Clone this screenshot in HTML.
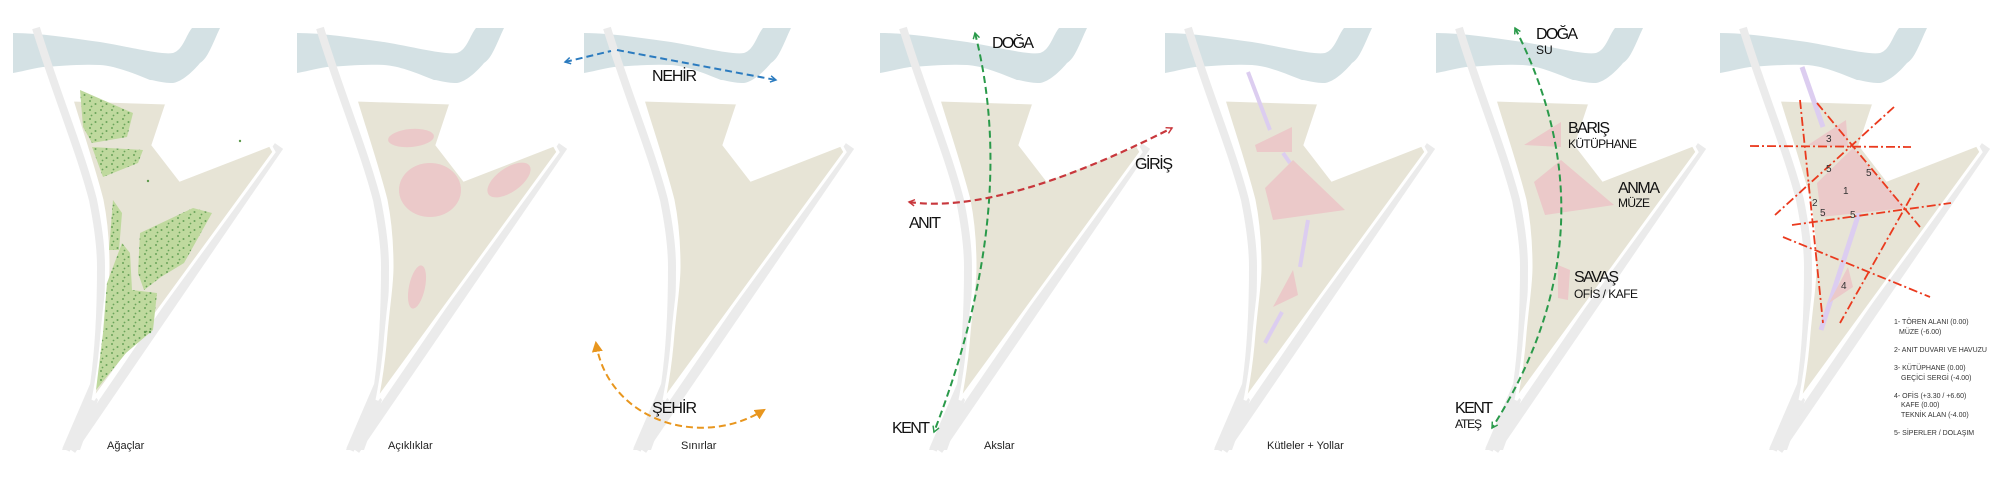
<!DOCTYPE html>
<html><head><meta charset="utf-8"><style>
html,body{margin:0;padding:0;background:#fff;}
svg{display:block;}
text{font-family:"Liberation Sans","DejaVu Sans",sans-serif;fill:#111;}
.cap{font-size:11px;fill:#222;}
.big{font-size:16px;}
.sm{font-size:12px;}
.num{font-size:10px;fill:#333;}
.lg{font-size:7px;fill:#333;}
</style></head><body>
<svg width="2000" height="478" viewBox="0 0 2000 478" xmlns="http://www.w3.org/2000/svg">
<defs>
  <pattern id="dots" width="11" height="9" patternUnits="userSpaceOnUse">
    <circle cx="2" cy="2" r="1" fill="#6aa35a"/>
    <circle cx="7.5" cy="5" r="1" fill="#6aa35a"/>
    <circle cx="3.5" cy="7.5" r="0.9" fill="#6aa35a"/>
  </pattern>
  <marker id="cb" viewBox="0 0 10 10" refX="8" refY="5" markerWidth="8" markerHeight="8" orient="auto-start-reverse" markerUnits="userSpaceOnUse">
    <path d="M1,1 L8,5 L1,9" fill="none" stroke="#2b7bbf" stroke-width="1.8"/>
  </marker>
  <marker id="cg" viewBox="0 0 10 10" refX="8" refY="5" markerWidth="8" markerHeight="8" orient="auto-start-reverse" markerUnits="userSpaceOnUse">
    <path d="M1,1 L8,5 L1,9" fill="none" stroke="#2a9a4a" stroke-width="1.8"/>
  </marker>
  <marker id="cr" viewBox="0 0 10 10" refX="8" refY="5" markerWidth="8" markerHeight="8" orient="auto-start-reverse" markerUnits="userSpaceOnUse">
    <path d="M1,1 L8,5 L1,9" fill="none" stroke="#c8373c" stroke-width="1.8"/>
  </marker>
  <marker id="to" viewBox="0 0 10 10" refX="8" refY="5" markerWidth="11" markerHeight="11" orient="auto-start-reverse" markerUnits="userSpaceOnUse">
    <path d="M0,0 L10,5 L0,10 Z" fill="#e8961e"/>
  </marker>
  <g id="base">
    <path d="M13,33 C40,33 70,38 100,42 C130,47 160,55 173,53 C183,50 186,35 192,28 L220,28 C212,45 208,58 200,63 C190,75 180,82 173,83 C160,83 155,80 150,80 C130,72 115,66 100,65 C80,64 60,66 43,67 C30,69 20,72 13,73 Z" fill="#d4e1e4"/>
    <path d="M36,28 C55,90 80,150 93,200 C99,230 101,250 101,267 C101,310 99,350 94,385 L66,450" fill="none" stroke="#ebebeb" stroke-width="8" stroke-linejoin="round"/>
    <line x1="279" y1="146" x2="71" y2="450" stroke="#ebebeb" stroke-width="10"/>
    <polygon points="62,450 92,392 98,400 80,450" fill="#ebebeb"/>
    <path d="M72,100 L167,103 L153,145 L180,180 L270,145 L274,152 L93,400 C96,385 100,360 102,333 C105,300 108,285 108,267 C108,240 106,220 102,200 C93,165 81,130 72,100 Z" fill="#e7e4d6" stroke="#fff" stroke-width="3"/>
  </g>
</defs>

<!-- Panel 1 -->
<use href="#base" x="0"/>
<g fill="#bfd99e">
  <polygon points="80,90 133,113 127,137 92,143 83,127"/>
  <polygon points="92,147 143,150 138,163 103,177"/>
  <polygon points="140,233 193,208 212,213 184,263 161,277 144,290 138,273"/>
  <polygon points="113,200 122,213 119,250 109,250"/>
  <polygon points="122,243 130,253 132,290 157,293 153,330 126,353 96,390 103,333 107,283"/>
</g>
<g fill="url(#dots)">
  <polygon points="80,90 133,113 127,137 92,143 83,127"/>
  <polygon points="92,147 143,150 138,163 103,177"/>
  <polygon points="140,233 193,208 212,213 184,263 161,277 144,290 138,273"/>
  <polygon points="113,200 122,213 119,250 109,250"/>
  <polygon points="122,243 130,253 132,290 157,293 153,330 126,353 96,390 103,333 107,283"/>
</g>
<circle cx="240" cy="141" r="1.2" fill="#5f9b4e"/>
<circle cx="148" cy="181" r="1.2" fill="#5f9b4e"/>
<circle cx="145" cy="332" r="1.2" fill="#5f9b4e"/>
<circle cx="150" cy="332" r="1.2" fill="#5f9b4e"/>
<text class="cap" x="107" y="449">Ağaçlar</text>

<!-- Panel 2 -->
<use href="#base" x="284"/>
<g fill="#ebc9c9">
  <ellipse cx="411" cy="138" rx="23" ry="9" transform="rotate(-5 411 138)"/>
  <ellipse cx="430" cy="190" rx="31" ry="27"/>
  <ellipse cx="509" cy="180" rx="25" ry="12" transform="rotate(-35 509 180)"/>
  <ellipse cx="417" cy="287" rx="8" ry="22" transform="rotate(12 417 287)"/>
</g>
<text class="cap" x="388" y="449">Açıklıklar</text>

<!-- Panel 3 -->
<use href="#base" x="571"/>
<path d="M565,62 L611,51 M617,50 L776,80" fill="none" stroke="#2b7bbf" stroke-width="2" stroke-dasharray="7 4" marker-start="url(#cb)" marker-end="url(#cb)"/>
<text class="big" x="652" y="81" textLength="45">NEHİR</text>
<path d="M596,343 C608,420 700,450 764,410" fill="none" stroke="#e8961e" stroke-width="2" stroke-dasharray="7 4" marker-start="url(#to)" marker-end="url(#to)"/>
<text class="big" x="652" y="413" textLength="45">ŞEHİR</text>
<text class="cap" x="681" y="449">Sınırlar</text>

<!-- Panel 4 -->
<use href="#base" x="867"/>
<path d="M975,33 Q1020,210 934,432" fill="none" stroke="#2a9a4a" stroke-width="2" stroke-dasharray="7 4" marker-start="url(#cg)" marker-end="url(#cg)"/>
<path d="M909,202 Q1000,215 1172,128" fill="none" stroke="#c8373c" stroke-width="2.2" stroke-dasharray="7 4" marker-start="url(#cr)" marker-end="url(#cr)"/>
<text class="big" x="992" y="48" textLength="42">DOĞA</text>
<text class="big" x="1135" y="169" textLength="38">GİRİŞ</text>
<text class="big" x="909" y="228" textLength="32">ANIT</text>
<text class="big" x="892" y="433" textLength="38">KENT</text>
<text class="cap" x="984" y="449">Akslar</text>

<!-- Panel 5 -->
<use href="#base" x="1152"/>
<g stroke="#dccdf0" stroke-width="4" fill="none">
  <line x1="1248" y1="72" x2="1270" y2="130"/>
  <line x1="1283" y1="153" x2="1290" y2="163"/>
  <line x1="1308" y1="220" x2="1300" y2="267"/>
  <line x1="1282" y1="312" x2="1265" y2="343"/>
</g>
<g fill="#ebc9c9">
  <polygon points="1255,145 1292,127 1292,152 1257,152"/>
  <polygon points="1265,188 1293,160 1345,210 1273,220"/>
  <polygon points="1273,307 1293,270 1298,295"/>
</g>
<text class="cap" x="1267" y="449">Kütleler + Yollar</text>

<!-- Panel 6 -->
<use href="#base" x="1423"/>
<g fill="#ebc9c9">
  <polygon points="1524,145 1561,122 1561,147"/>
  <polygon points="1534,182 1561,160 1614,205 1545,215"/>
  <polygon points="1558,265 1570,270 1568,300 1558,298"/>
</g>
<path d="M1515,28 Q1618,230 1492,428" fill="none" stroke="#2a9a4a" stroke-width="2" stroke-dasharray="7 4" marker-start="url(#cg)" marker-end="url(#cg)"/>
<text class="big" x="1536" y="39" textLength="42">DOĞA</text>
<text class="sm" x="1536" y="54">SU</text>
<text class="big" x="1568" y="133" textLength="42">BARIŞ</text>
<text class="sm" x="1568" y="148" textLength="69">KÜTÜPHANE</text>
<text class="big" x="1618" y="193" textLength="42">ANMA</text>
<text class="sm" x="1618" y="207" textLength="32">MÜZE</text>
<text class="big" x="1574" y="282" textLength="45">SAVAŞ</text>
<text class="sm" x="1574" y="298" textLength="64">OFİS / KAFE</text>
<text class="big" x="1455" y="413" textLength="38">KENT</text>
<text class="sm" x="1455" y="428" textLength="27">ATEŞ</text>

<!-- Panel 7 -->
<use href="#base" x="1707"/>
<g stroke="#dccdf0" stroke-width="5" fill="none">
  <line x1="1802" y1="67" x2="1823" y2="127"/>
  <line x1="1859" y1="213" x2="1821" y2="330"/>
</g>
<g fill="#ebc9c9">
  <polygon points="1808,145 1846,120 1848,147"/>
  <polygon points="1817,183 1853,148 1905,208 1821,217"/>
  <polygon points="1829,303 1848,267 1853,287"/>
</g>
<g stroke="#ea3a1e" stroke-width="1.8" stroke-dasharray="9 3 2 3" fill="none">
  <line x1="1750" y1="146" x2="1911" y2="147"/>
  <line x1="1800" y1="100" x2="1823" y2="323"/>
  <line x1="1817" y1="103" x2="1920" y2="227"/>
  <line x1="1894" y1="107" x2="1775" y2="215"/>
  <line x1="1792" y1="225" x2="1951" y2="203"/>
  <line x1="1919" y1="183" x2="1840" y2="323"/>
  <line x1="1783" y1="237" x2="1930" y2="297"/>
</g>
<text class="num" x="1826" y="142">3</text>
<text class="num" x="1826" y="172">5</text>
<text class="num" x="1866" y="176">5</text>
<text class="num" x="1843" y="194">1</text>
<text class="num" x="1812" y="206">2</text>
<text class="num" x="1820" y="216">5</text>
<text class="num" x="1850" y="218">5</text>
<text class="num" x="1841" y="289">4</text>
<text class="lg" x="1894" y="324">1- TÖREN ALANI (0.00)</text>
<text class="lg" x="1899" y="334">MÜZE (-6.00)</text>
<text class="lg" x="1894" y="352">2- ANIT DUVARI VE HAVUZU</text>
<text class="lg" x="1894" y="370">3- KÜTÜPHANE (0.00)</text>
<text class="lg" x="1901" y="380">GEÇİCİ SERGİ (-4.00)</text>
<text class="lg" x="1894" y="398">4- OFİS (+3.30 / +6.60)</text>
<text class="lg" x="1901" y="407">KAFE (0.00)</text>
<text class="lg" x="1901" y="417">TEKNİK ALAN (-4.00)</text>
<text class="lg" x="1894" y="435">5- SİPERLER / DOLAŞIM</text>
</svg>
</body></html>
